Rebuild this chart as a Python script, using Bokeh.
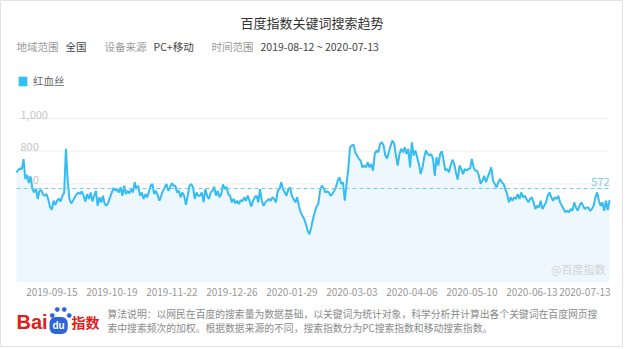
import pandas as pd
from bokeh.plotting import figure
from bokeh.models import Range1d, Label, Legend, LegendItem, ColumnDataSource
from bokeh.core.properties import value
from bokeh.embed import file_html
from bokeh.resources import INLINE

# ---------------- data ----------------
title_text = "百度指数关键词搜索趋势"
keyword = "红血丝"
region_label, region_value = "地域范围", "全国"
device_label, device_value = "设备来源", "PC+移动"
time_label = "时间范围"
start_date = "2019-08-12"
end_date = "2020-07-13"
average_value = 572

search_index = [
    670, 685, 695, 690, 752, 630, 655, 605, 645, 570,
    548, 570, 508, 558, 562, 535, 528, 538, 505, 460,
    442, 497, 472, 497, 510, 493, 528, 545, 814, 620,
    508, 481, 497, 518, 535, 548, 538, 554, 528, 493,
    538, 508, 548, 493, 528, 558, 466, 518, 487, 528,
    477, 466, 487, 518, 548, 575, 558, 568, 548, 579,
    528, 589, 538, 558, 542, 568, 548, 610, 568, 589,
    528, 548, 508, 538, 518, 550, 589, 600, 538, 558,
    530, 497, 528, 558,
    579, 600, 558, 579, 604, 589, 589, 548, 558, 518,
    548, 528, 472, 528, 589, 600, 579, 508, 548, 528,
    528, 548, 487, 568, 528, 508, 548, 558, 583, 528,
    558, 518, 538, 597, 568, 583, 538, 528, 487, 508,
    481, 497, 477, 501,
    493, 518, 497, 528, 497, 462, 497, 518, 528, 487,
    568, 497, 466, 487, 497, 508, 497, 518, 508, 487,
    558, 568, 610, 568, 548, 528, 568, 579, 528, 508,
    487, 518, 466, 426, 405, 385, 354, 313, 292,
    333, 385, 426, 462, 477, 558, 589, 575, 548, 554,
    548, 528, 538, 558, 579, 620, 641, 600, 610, 497,
    600, 692, 824, 835, 840, 790, 773, 753, 742, 701,
    712, 701, 732, 701, 722, 681, 783, 804, 793, 845,
    855, 835, 773, 755, 795, 835, 865, 845, 773, 712,
    783, 814, 793, 824, 783, 814, 701, 855, 773, 804,
    763, 722, 660, 700, 763, 804, 783, 773, 783, 753,
    650, 763, 712, 783, 800, 742, 681, 692, 671, 712,
    748, 722, 671, 626,
    712, 692, 660, 692, 681, 692, 692, 753, 701, 681,
    681, 650, 600, 620, 650, 610, 641, 671, 701, 620,
    600, 579, 610, 630, 610, 600, 568, 538, 487, 518,
    497, 518, 508, 538, 508, 548, 518, 528, 508, 487,
    508, 518, 487, 446, 466, 456, 497, 446, 466, 487,
    528, 548, 518, 497, 518, 508, 528, 487, 466, 446,
    426, 436, 426, 446, 436, 487, 456, 436, 466, 487,
    466, 446, 456, 456, 436, 446, 466, 518, 548, 497,
    466, 487, 436, 497, 440, 500,
]

x_tick_labels = ["2019-09-15", "2019-10-19", "2019-11-22", "2019-12-26", "2020-01-29",
                 "2020-03-03", "2020-04-06", "2020-05-10", "2020-06-13", "2020-07-13"]
y_tick_values = [200, 400, 600, 800, 1000]
y_tick_labels = ["200", "400", "600", "800", "1,000"]

footer_line1 = "算法说明：以网民在百度的搜索量为数据基础，以关键词为统计对象，科学分析并计算出各个关键词在百度网页搜"
footer_line2 = "索中搜索频次的加权。根据数据来源的不同，搜索指数分为PC搜索指数和移动搜索指数。"
watermark = "@百度指数"

# ---------------- layout ----------------
W, H = 623, 347
plot_left_px, plot_right_px = 16, 609
zero_px = 281.5           # pixel row (from top) of value 0
px_per_unit = 0.1635      # vertical pixels per index unit

FONT = "Noto Sans CJK SC"

dates = pd.date_range(start_date, end_date, freq="D")
assert len(dates) == len(search_index)
tick_dates = pd.to_datetime(x_tick_labels)

ms = lambda t: pd.Timestamp(t).value / 1e6
d0, d1 = ms(dates[0]), ms(dates[-1])
px_per_ms = (plot_right_px - plot_left_px) / (d1 - d0)
x_start = d0 - plot_left_px / px_per_ms
x_end = x_start + W / px_per_ms
y_start = -(H - zero_px) / px_per_unit
y_end = y_start + H / px_per_unit

p = figure(width=W, height=H, x_range=Range1d(x_start, x_end), y_range=Range1d(y_start, y_end),
           x_axis_type=None, y_axis_type=None, toolbar_location=None, output_backend="svg",
           min_border=0, min_border_left=0, min_border_right=0, min_border_top=0, min_border_bottom=0,
           background_fill_color="white", border_fill_color="white",
           outline_line_color="#e2e2e2", outline_line_width=1)

src = ColumnDataSource(dict(date=dates, v=search_index))

# grid lines
n = len(y_tick_values)
p.segment(x0=[dates[0]] * n, x1=[dates[-1]] * n, y0=y_tick_values, y1=y_tick_values,
          line_color="#efefef", line_width=1)

# y tick labels (inside plot, above grid lines)
p.text(x=[dates[0]] * n, y=y_tick_values, text=y_tick_labels, x_offset=4, y_offset=0,
       text_font=value(FONT), text_font_size="11px", text_color="#c6c6c6",
       text_align="left", text_baseline="bottom")

# area + line
p.varea(x="date", y1=0, y2="v", source=src, fill_color="#edf7fd")
line_r = p.line(x="date", y="v", source=src, line_color="#35bcf2", line_width=2)

# average line
p.segment(x0=[dates[0]], x1=[dates[-1]], y0=[average_value], y1=[average_value],
          line_color="#6ccbf2", line_width=1, line_dash="4 3")
p.text(x=[dates[-1]], y=[average_value], text=[str(average_value)], y_offset=-2,
       text_font=value(FONT), text_font_size="11px", text_color="#7ccbee",
       text_align="right", text_baseline="bottom")

# watermark
p.text(x=[dates[-1]], y=[0], text=[watermark], x_offset=-4, y_offset=-13,
       text_font=value(FONT), text_font_size="11px", text_color="#d3d3d3",
       text_align="right", text_baseline="middle")

# x tick labels (right-aligned at tick dates)
p.text(x=tick_dates, y=[0] * len(tick_dates), text=x_tick_labels, x_offset=1, y_offset=10,
       text_font=value(FONT), text_font_size="10px", text_color="#999999",
       text_align="right", text_baseline="middle")

# legend (swatch glyph taken from a hidden renderer of the series)
legend_glyph = p.quad(left=[dates[0]], right=[dates[1]], top=[search_index[0]], bottom=[0],
                      fill_color="#35bff0", line_color=None, visible=False)
legend = Legend(items=[LegendItem(label=keyword, renderers=[legend_glyph])],
                location=(17, H - 88), orientation="horizontal",
                background_fill_alpha=0, border_line_alpha=0,
                glyph_width=11, glyph_height=12, label_standoff=5,
                label_text_font=FONT, label_text_font_size="10.5px", label_text_color="#666666",
                padding=0, margin=0, spacing=0)
p.add_layout(legend)

# header
def lab(x, y_top, text, size, color, align="left", bold=False):
    p.add_layout(Label(x=x, y=H - y_top, x_units="screen", y_units="screen", text=text,
                       text_font=FONT, text_font_size=size, text_color=color,
                       text_align=align, text_baseline="middle",
                       text_font_style="bold" if bold else "normal"))

lab(W / 2, 22, title_text, "13px", "#333333", align="center")
lab(16, 46, region_label, "10.5px", "#9a9a9a")
lab(65, 46, region_value, "10.5px", "#444444")
lab(104, 46, device_label, "10.5px", "#9a9a9a")
lab(153, 46, device_value, "10.5px", "#444444")
lab(211, 46, time_label, "10.5px", "#9a9a9a")
lab(260, 46, f"{start_date} ~ {end_date}", "10.5px", "#444444")

# footer logo
p.add_layout(Label(x=16, y=H - 321, x_units="screen", y_units="screen", text="Bai",
                   text_font="Liberation Sans", text_font_size="20px", text_font_style="bold",
                   text_color="#e0201b", text_baseline="middle"))
p.add_layout(Label(x=49, y=H - 325, x_units="screen", y_units="screen", text="du",
                   text_font="Liberation Sans", text_font_size="10px", text_font_style="bold",
                   text_color="white", text_baseline="middle",
                   background_fill_color="#2f63d8", border_radius=6, padding=3))
for tx, ty in [(49, 314), (54, 308), (61, 308), (66, 314)]:
    p.add_layout(Label(x=tx, y=H - ty, x_units="screen", y_units="screen", text="●",
                       text_font="DejaVu Sans", text_font_size="6px",
                       text_color="#2f63d8", text_baseline="middle"))
p.add_layout(Label(x=71, y=H - 321, x_units="screen", y_units="screen", text="指数",
                   text_font=FONT, text_font_size="14px", text_font_style="bold",
                   text_color="#e0201b", text_baseline="middle"))

lab(107, 313, footer_line1, "9.8px", "#8a8a8a")
lab(107, 327, footer_line2, "9.8px", "#8a8a8a")

open("out.html", "w").write(file_html(p, INLINE))
